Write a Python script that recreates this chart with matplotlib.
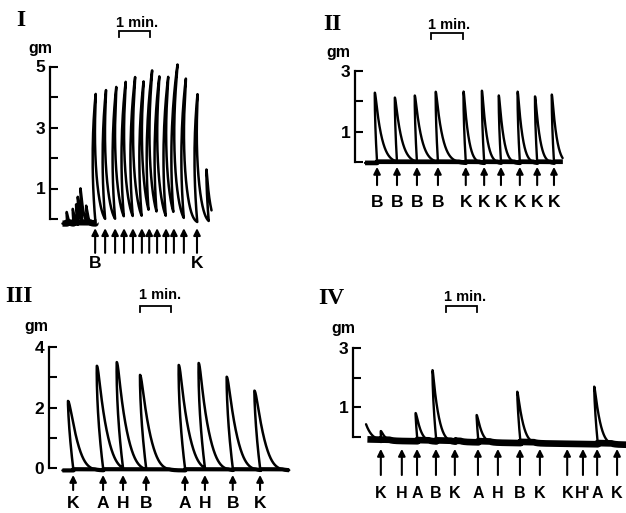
import numpy as np
import matplotlib
matplotlib.use("Agg")
import matplotlib.pyplot as plt

# ---------------- data (times in s, forces in gm) ----------------
# Panel I
I_stim_t = [86, 105, 124, 141, 158, 175, 189, 204, 221, 236, 255, 280]
I_stim_lbl = ["B", "", "", "", "", "", "", "", "", "", "", "K"]
I_peak = [4.1, 4.1, 4.2, 4.3, 4.45, 4.3, 4.5, 4.35, 4.45, 4.75, 4.45, 4.05]
I_extra_t = [32, 44, 51, 55, 61, 70, 302]          # unlabelled small responses
I_extra_peak = [0.23, 0.33, 0.46, 0.62, 0.95, 0.40, 1.55]
I_extra_tau = [2, 2, 2, 2, 2.5, 2, 4]
I_base = -0.15
I_span = (23, 309)
I_ticklabels = ["", "1", "", "3", "", "5"]

# Panel II
II_stim_t = [42, 80, 118, 158, 211, 246, 278, 314, 347, 379]
II_stim_lbl = ["B", "B", "B", "B", "K", "K", "K", "K", "K", "K"]
II_peak = [2.28, 2.08, 2.15, 2.28, 2.31, 2.34, 2.18, 2.31, 2.15, 2.21]
II_tau = [9, 9, 9, 9, 5.5, 5.5, 5.5, 5.5, 5.5, 5.5]
II_base = -0.03
II_span = (19, 396)
II_ticklabels = ["", "1", "", "3"]

# Panel III
III_stim_t = [46, 103, 141, 185, 259, 297, 350, 402]
III_stim_lbl = ["K", "A", "H", "B", "A", "H", "B", "K"]
III_peak = [2.22, 3.38, 3.44, 3.05, 3.41, 3.41, 3.01, 2.55]
III_base = -0.08
III_span = (25, 457)
III_ticklabels = ["0", "", "2", "", "4"]

# Panel IV
IV_stim_t = [53, 93, 122, 158, 194, 238, 276, 318, 356, 408, 438, 465, 503]
IV_stim_lbl = ["K", "H", "A", "B", "K", "A", "H", "B", "K", "K", "H'", "A", "K"]
IV_resp = [0.30, 0.0, 0.95, 2.40, 0.12, 0.92, 0.0, 1.73, 0.0, 0.0, 0.0, 1.94, 0.0]
IV_init = 0.55                      # residual tension at start of record
IV_base_t = [27, 150, 300, 450, 520]
IV_base_v = [-0.12, -0.15, -0.20, -0.24, -0.26]
IV_span = (27, 520)
IV_ticklabels = ["", "1", "", "3"]

# ---------------- figure helpers ----------------
W, H = 626, 513
PXS = 31.5 / 60.0   # pixels per second of record
fig = plt.figure(figsize=(W / 100, H / 100), dpi=100)
fig.patch.set_facecolor("white")

SANS = ["Liberation Sans", "DejaVu Sans"]
SERIF = ["Liberation Serif", "DejaVu Serif"]


def twitch(t, t0, amp, tr, c, tau):
    u = t - t0
    y = np.zeros_like(t)
    r = (u >= 0) & (u < tr)
    y[r] = amp * (1 - (1 - u[r] / tr) ** 2)
    d = u >= tr
    v = u[d] - tr
    y[d] = amp * np.exp(-(np.sqrt(v ** 2 + c ** 2) - c) / tau)
    return y


def pen(t, y, k, yc):
    # curvilinear (pen arc) displacement of kymograph writing point
    return t + k * (y ** 2 - 2 * y * yc)


def make_panel(spine_px, zero_px, ppg, rect, ytop, ticklabels):
    l, tp, r, b = rect
    ax = fig.add_axes([l / W, 1 - b / H, (r - l) / W, (b - tp) / H])
    ax.set_xlim((l - spine_px) / PXS, (r - spine_px) / PXS)
    ax.set_ylim((zero_px - b) / ppg, (zero_px - tp) / ppg)
    ax.patch.set_alpha(0)
    for s in ["top", "right", "bottom"]:
        ax.spines[s].set_visible(False)
    ax.spines["left"].set_position(("data", 0))
    ax.spines["left"].set_bounds(0, ytop)
    ax.spines["left"].set_linewidth(1.6)
    ax.set_xticks([])
    ax.set_yticks(range(0, ytop + 1))
    ax.set_yticklabels(ticklabels, fontfamily=SANS, fontweight="bold")
    ax.tick_params(axis="y", direction="in", length=6, width=1.5, pad=3.5,
                   labelsize=12.5)
    return ax


def ftext(x, y, s, **kw):
    fig.text(x / W, 1 - y / H, s, ha="center", va="center", **kw)


def arrows(ax, times, labels, tip, tail, lab_y, size=12.5):
    for t, lb in zip(times, labels):
        ax.annotate("", xy=(t, tip), xytext=(t, tail),
                    arrowprops=dict(arrowstyle="-|>", color="k", lw=1.5,
                                    mutation_scale=10, shrinkA=0, shrinkB=0),
                    annotation_clip=False)
        if lb:
            ax.text(t, lab_y, lb, ha="center", va="baseline", fontsize=size,
                    fontweight="bold", family=SANS, clip_on=False)


def bracket(ax, t0, ylow, yhigh):
    ax.plot([t0, t0, t0 + 60, t0 + 60], [ylow, yhigh, yhigh, ylow], color="k",
            lw=1.3, clip_on=False, solid_joinstyle="miter")


def draw_trace(ax, t, y, base, k, yc, lw, thick_lw, thick_until=None):
    ax.plot(pen(t, y, k, yc), y, color="k", lw=lw, clip_on=False,
            solid_capstyle="round")
    yt = np.minimum(y, base + 0.04)
    m = np.ones_like(t, dtype=bool) if thick_until is None else t <= thick_until
    ax.plot(pen(t[m], yt[m], k, yc), yt[m], color="k", lw=thick_lw,
            clip_on=False, solid_capstyle="butt")


DT = 0.05

# ---------------- Panel I ----------------
ax1 = make_panel(50, 219, 30.5, (50, 5, 312, 280), 5, I_ticklabels)
t = np.arange(I_span[0], I_span[1], DT)
y = np.full_like(t, I_base)
for t0, pk in zip(I_stim_t, I_peak):
    y += twitch(t, t0, pk - I_base, 1.0, 1.5, 5.0)
for t0, pk, tau in zip(I_extra_t, I_extra_peak, I_extra_tau):
    y += twitch(t, t0, pk - I_base, 0.8, 0.5, tau)
draw_trace(ax1, t, y, I_base, 1.2, 2.05, 1.8, 4.5, thick_until=88)
arrows(ax1, I_stim_t, I_stim_lbl, -0.30, -1.11, -1.61)
bracket(ax1, 131, 5.97, 6.16)
ftext(21, 21, "I", fontsize=17, fontweight="bold", family=SERIF)
ftext(137, 23, "1 min.", fontsize=10.5, fontweight="bold", family=SANS)
ftext(40, 49, "gm", fontsize=11.5, fontweight="bold", family=SANS)

# ---------------- Panel II ----------------
ax2 = make_panel(355, 162, 30.4, (355, 5, 626, 262), 3, II_ticklabels)
t = np.arange(II_span[0], II_span[1], DT)
y = np.full_like(t, II_base)
for t0, pk, tau in zip(II_stim_t, II_peak, II_tau):
    y += twitch(t, t0, pk - II_base, 1.0, 1.5, tau)
draw_trace(ax2, t, y, II_base, 0.62, 3.0, 1.7, 3.4)
arrows(ax2, II_stim_t, II_stim_lbl, -0.16, -0.76, -1.48)
bracket(ax2, 145, 4.05, 4.24)
ftext(332, 25, "II", fontsize=17, fontweight="bold", family=SERIF)
ftext(449, 25, "1 min.", fontsize=10.5, fontweight="bold", family=SANS)
ftext(338, 52, "gm", fontsize=11.5, fontweight="bold", family=SANS)

# ---------------- Panel III ----------------
ax3 = make_panel(49, 468, 30.2, (49, 282, 312, 513), 4, III_ticklabels)
t = np.arange(III_span[0], III_span[1], DT)
y = np.full_like(t, III_base)
for t0, pk in zip(III_stim_t, III_peak):
    y += twitch(t, t0, pk - III_base, 1.5, 7.0, 8.0)
draw_trace(ax3, t, y, III_base, 0.99, 3.69, 1.8, 3.0)
arrows(ax3, III_stim_t, III_stim_lbl, -0.23, -0.73, -1.34)
bracket(ax3, 173, 5.17, 5.36)
ftext(19, 296, "III", fontsize=17, fontweight="bold", family=SERIF)
ftext(160, 295, "1 min.", fontsize=10.5, fontweight="bold", family=SANS)
ftext(36, 327, "gm", fontsize=11.5, fontweight="bold", family=SANS)

# ---------------- Panel IV ----------------
ax4 = make_panel(353, 437, 29.7, (353, 282, 626, 513), 3, IV_ticklabels)
t = np.arange(IV_span[0], IV_span[1], DT)
base = np.interp(t, IV_base_t, IV_base_v)
y = base + IV_init * np.exp(-(t - IV_span[0]) / 9.0)
for t0, rsp in zip(IV_stim_t, IV_resp):
    if rsp > 0:
        y += twitch(t, t0, rsp, 1.0, 1.5, 6.0)
draw_trace(ax4, t, y, base, 0.9, 3.0, 1.7, 4.8)
arrows(ax4, IV_stim_t, IV_stim_lbl, -0.40, -1.28, -2.05, size=11.5)
bracket(ax4, 177, 4.21, 4.41)
ftext(331, 299, "IV", fontsize=17, fontweight="bold", family=SERIF)
ftext(465, 297, "1 min.", fontsize=10.5, fontweight="bold", family=SANS)
ftext(343, 328, "gm", fontsize=11.5, fontweight="bold", family=SANS)

fig.savefig("out.png", dpi=100, facecolor="white")
